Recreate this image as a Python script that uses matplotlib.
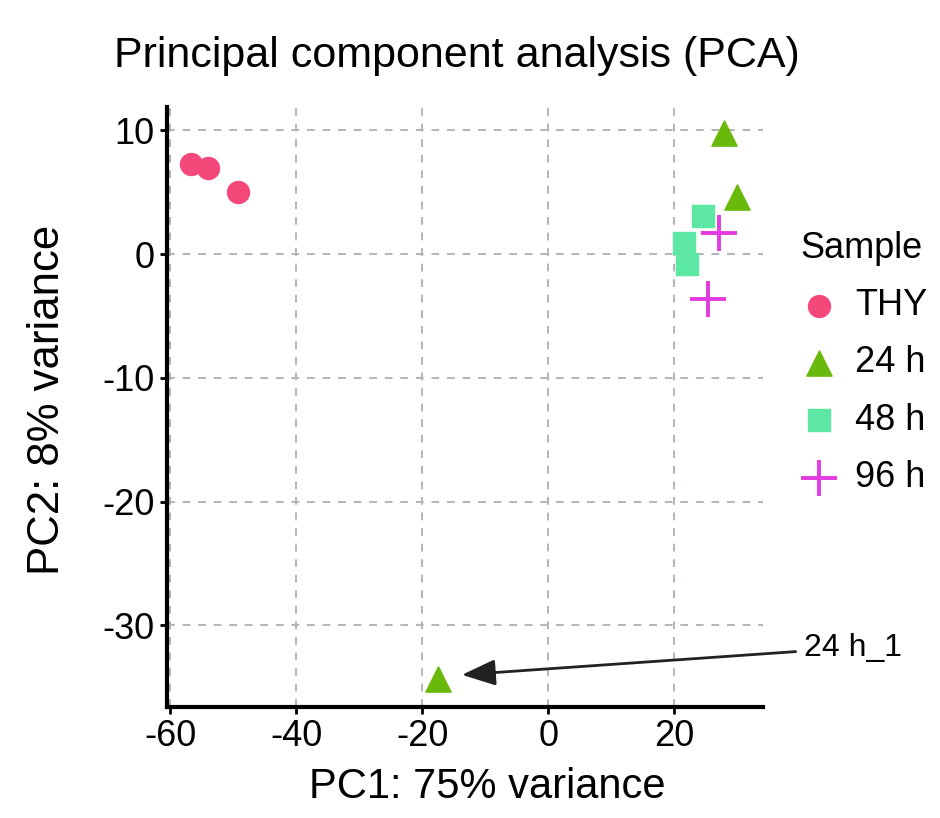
import matplotlib
matplotlib.use("Agg")
import matplotlib.pyplot as plt

plt.rcParams['font.family'] = ['Liberation Sans', 'DejaVu Sans']
plt.rcParams['axes.unicode_minus'] = False

# PCA coordinates
thy_x = [-56.7, -54.0, -49.3]
thy_y = [7.3, 7.0, 5.0]
h24_x = [27.9, 29.9, -17.5]
h24_y = [9.8, 4.6, -34.3]
h48_x = [24.5, 21.6, 22.1]
h48_y = [3.1, 0.9, -0.8]
h96_x = [27.1, 25.4]
h96_y = [1.7, -3.6]

groups = ['THY', '24 h', '48 h', '96 h']
xticks = [-60, -40, -20, 0, 20]
yticks = [-30, -20, -10, 0, 10]

fig = plt.figure(figsize=(9.4, 8.18), dpi=100)
ax = fig.add_axes([0.1777, 0.1357, 0.634, 0.7335])

ax.scatter(thy_x, thy_y, s=250, marker='o', color='#F4487A', label=groups[0], zorder=3)
ax.scatter(h24_x, h24_y, s=330, marker='^', color='#69B80C', label=groups[1], zorder=3)
ax.scatter(h48_x, h48_y, s=240, marker='s', color='#5CE8A4', label=groups[2], zorder=3)
ax.scatter(h96_x, h96_y, s=650, marker='+', color='#E33BDF', linewidths=2.8, label=groups[3], zorder=3)

ax.set_xlim(-60.5, 34.1)
ax.set_ylim(-36.6, 11.9)
ax.set_xticks(xticks)
ax.set_yticks(yticks)
ax.grid(True, color='#B0B5BA', linestyle=(0, (4, 4)), linewidth=1.4)
ax.set_axisbelow(True)

for s in ['top', 'right']:
    ax.spines[s].set_visible(False)
for s in ['left', 'bottom']:
    ax.spines[s].set_linewidth(3)
ax.tick_params(axis='both', labelsize=26, width=2, length=5, colors='black', pad=4)

ax.set_xlabel('PC1: 75% variance', fontsize=30)
ax.set_ylabel('PC2: 8% variance', fontsize=31.5)
ax.xaxis.set_label_coords(0.537, -0.100)
ax.yaxis.set_label_coords(-0.166, 0.512)
fig.text(0.486, 1 - 67 / 818, 'Principal component analysis (PCA)', fontsize=31,
         ha='center', va='baseline')

ax.annotate('24 h_1', xy=(-13.7, -34.0), xytext=(40.6, -31.8), fontsize=23,
            ha='left', va='center', annotation_clip=False,
            arrowprops=dict(arrowstyle='-|>,head_length=0.9,head_width=0.35',
                            color='#222222', lw=2, shrinkA=4, shrinkB=0))

leg = ax.legend(loc='upper left', bbox_to_anchor=(0.852, 0.718), bbox_transform=fig.transFigure,
                frameon=False, title='Sample', fontsize=26, title_fontsize=26,
                alignment='left', handlelength=1.0, handletextpad=0.5,
                labelspacing=0.62, borderpad=0, borderaxespad=0)

fig.savefig('out.png', dpi=100)
